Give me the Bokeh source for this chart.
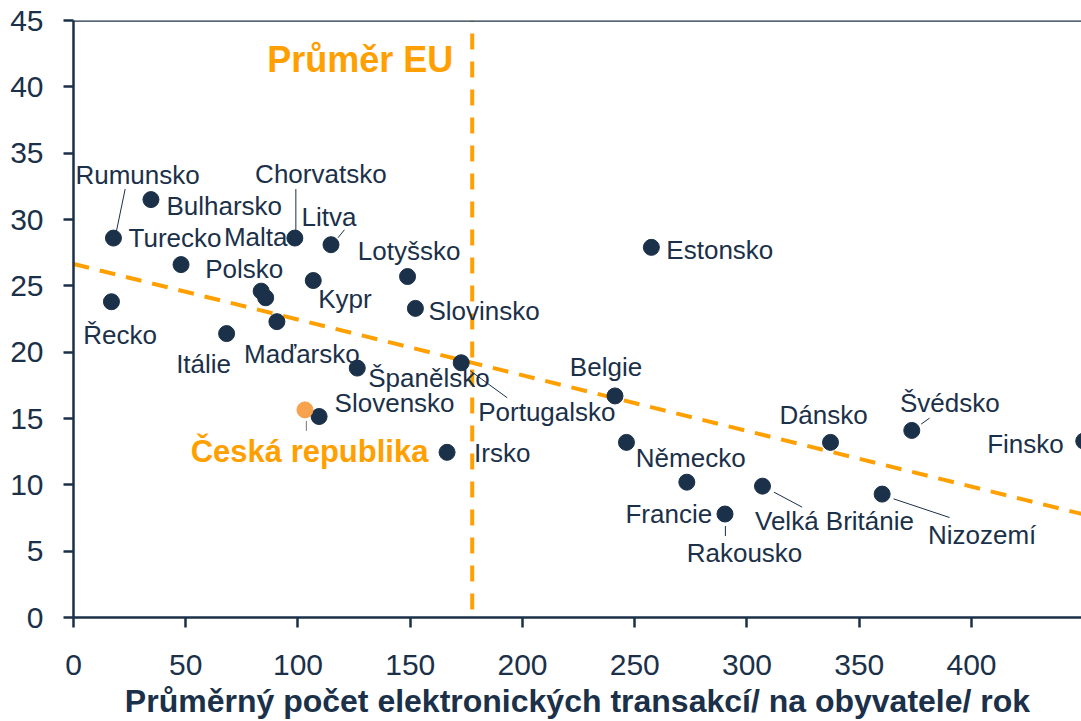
from bokeh.plotting import figure
from bokeh.models import ColumnDataSource, Range1d, Span, FixedTicker
from bokeh.embed import file_html
from bokeh.resources import INLINE
from bokeh.core.properties import value

# ---------------- data ----------------
countries = ["Rumunsko", "Turecko", "Bulharsko", "Chorvatsko", "Litva", "Malta",
             "Polsko", "Lotyšsko", "Kypr", "Slovinsko", "Řecko", "Itálie",
             "Maďarsko", "Španělsko", "Slovensko", "Portugalsko", "Irsko",
             "Belgie", "Estonsko", "Německo", "Francie", "Rakousko",
             "Velká Británie", "Nizozemí", "Dánsko", "Švédsko", "Finsko"]
transactions = [17.8, 47.9, 34.5, 98.6, 114.7, 85.6,
                83.6, 148.8, 106.8, 152.3, 16.9, 68.2,
                90.6, 126.4, 109.4, 172.7, 166.4,
                241.2, 257.4, 246.3, 273.2, 290.2,
                306.9, 360.2, 337.2, 373.4, 450.0]
share = [28.6, 26.6, 31.5, 28.6, 28.1, 24.1,
         24.6, 25.7, 25.4, 23.3, 23.8, 21.4,
         22.3, 18.8, 15.15, 19.2, 12.45,
         16.7, 27.9, 13.2, 10.2, 7.8,
         9.9, 9.3, 13.2, 14.1, 13.3]

cz_name = "Česká republika"
cz_transactions = [103.1]
cz_share = [15.65]

eu_avg_transactions = 177.6
trend_x = [0, 449]
trend_y = [26.65, 7.81]

x_ticks = [0, 50, 100, 150, 200, 250, 300, 350, 400, 450]
y_ticks = [0, 5, 10, 15, 20, 25, 30, 35, 40, 45]
x_title = "Průměrný počet elektronických transakcí/ na obyvatele/ rok"
eu_label = "Průměr EU"

# ---------------- label placement (screen px) ----------------
label_align = ["left", "center", "left", "center", "center", "center",
               "center", "center", "left", "left", "center", "center",
               "center", "left", "left", "left", "left",
               "center", "left", "left", "center", "center",
               "center", "center", "center", "center", "right"]
label_dx = [-38, -6, 15.5, 26, -2, -10,
            -17, 1.5, 5, 13, 8.6, -23,
            25, 11, 15.5, 17, 27,
            -9, 15, 9.4, -18, 19.5,
            72, 100, -7, 38, -20]
label_dy = [-63, -27, 6, -64, -28, -61,
            -22, -26, 18.5, 3, 33, 30,
            32, 10, -14, 49, 1,
            -29, 3, 16, 32, 39,
            35, 41, -27, -27, 3]

# leader lines: (country, start dx, start dy, end dx, end dy) in px from the point
leaders = [("Rumunsko", 3, -7, 11.7, -49),
           ("Chorvatsko", 1, -7, 1, -49),
           ("Litva", 7, -7, 13.5, -15),
           ("Portugalsko", 9, 8, 46, 35),
           ("Rakousko", 0.4, 12, 0.4, 22),
           ("Velká Británie", 11.5, 6, 39.7, 21),
           ("Nizozemí", 11.4, 4.7, 67.4, 23.4),
           ("Švédsko", 9.3, -6.3, 17.8, -12.3)]
cz_leader = (1.4, 11, 1.4, 21)

# ---------------- style ----------------
NAVY = "#1b3049"
ORANGE = "#FFA000"
CZ_DOT = "#F7A24C"
FONT = "Liberation Sans"

W, H = 1081, 721
BL, BR, BT, BB = 73, 0, 20, 104
X_END = 449
Y_END = 45
ppx = (W - BL - BR) / X_END
ppy = (H - BT - BB) / Y_END

p = figure(width=W, height=H, output_backend="svg", toolbar_location=None,
           x_range=Range1d(0, X_END), y_range=Range1d(0, Y_END),
           min_border_left=BL, min_border_right=BR, min_border_top=BT,
           min_border_bottom=BB)
p.outline_line_color = None
p.xgrid.grid_line_color = None
p.ygrid.grid_line_color = None
p.background_fill_color = "white"
p.border_fill_color = "white"

for ax in (p.xaxis[0], p.yaxis[0]):
    ax.axis_line_color = NAVY
    ax.axis_line_width = 2.5
    ax.major_tick_line_color = NAVY
    ax.major_tick_line_width = 2.5
    ax.major_tick_out = 10
    ax.major_tick_in = 0
    ax.minor_tick_line_color = None
    ax.major_label_text_font = FONT
    ax.major_label_text_font_size = "30px"
    ax.major_label_text_color = NAVY

p.xaxis.ticker = FixedTicker(ticks=x_ticks)
p.yaxis.ticker = FixedTicker(ticks=y_ticks)
p.xaxis.major_label_standoff = 27
p.yaxis.major_label_standoff = 20
p.xaxis.axis_label = x_title
p.xaxis.axis_label_text_font = FONT
p.xaxis.axis_label_text_font_style = "bold"
p.xaxis.axis_label_text_font_size = "32px"
p.xaxis.axis_label_text_color = NAVY
p.xaxis.axis_label_standoff = 5

# top frame line
p.add_layout(Span(location=Y_END, dimension="width", line_color=NAVY, line_width=2.5))

# trend line
p.line(trend_x, trend_y, line_color=ORANGE, line_width=4, line_dash="16 11")

# EU average vertical line
p.segment(x0=[eu_avg_transactions], y0=[0.6], x1=[eu_avg_transactions], y1=[Y_END],
          line_color=ORANGE, line_width=4, line_dash="16 12")
p.text(x=[eu_avg_transactions], y=[Y_END], text=[eu_label], x_offset=-19, y_offset=39,
       text_align="right", text_baseline="middle", text_color=ORANGE,
       text_font=value(FONT), text_font_style="bold", text_font_size="36px")

# leader lines
lx0, ly0, lx1, ly1 = [], [], [], []
for name, sx, sy, ex, ey in leaders:
    i = countries.index(name)
    lx0.append(transactions[i] + sx / ppx)
    ly0.append(share[i] - sy / ppy)
    lx1.append(transactions[i] + ex / ppx)
    ly1.append(share[i] - ey / ppy)
p.segment(x0=lx0, y0=ly0, x1=lx1, y1=ly1, line_color=NAVY, line_width=1)
p.segment(x0=[cz_transactions[0] + cz_leader[0] / ppx], y0=[cz_share[0] - cz_leader[1] / ppy],
          x1=[cz_transactions[0] + cz_leader[2] / ppx], y1=[cz_share[0] - cz_leader[3] / ppy],
          line_color="#777777", line_width=1)

# points
src = ColumnDataSource(dict(x=transactions, y=share, name=countries,
                            align=label_align, dx=label_dx, dy=label_dy))
p.scatter("x", "y", source=src, size=16, fill_color=NAVY, line_color=NAVY)
p.scatter(cz_transactions, cz_share, size=16, fill_color=CZ_DOT, line_color=CZ_DOT)

p.text("x", "y", text="name", source=src, x_offset="dx", y_offset="dy",
       text_align="align", text_baseline="middle", text_color=NAVY,
       text_font=value(FONT), text_font_size="26px")
p.text(cz_transactions, cz_share, text=[cz_name], x_offset=4.6, y_offset=42,
       text_align="center", text_baseline="middle", text_color=ORANGE,
       text_font=value(FONT), text_font_style="bold", text_font_size="31px")

open("out.html", "w").write(file_html(p, INLINE))
